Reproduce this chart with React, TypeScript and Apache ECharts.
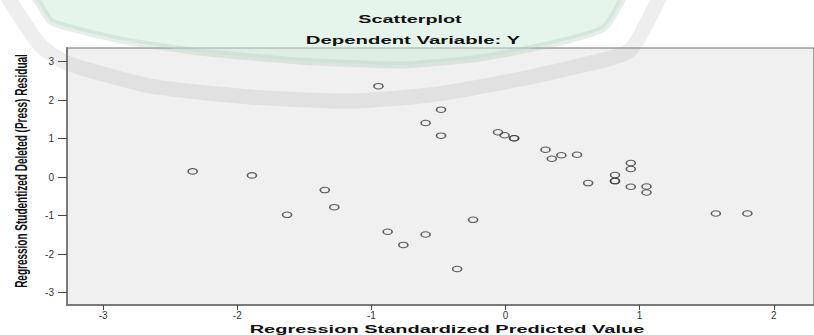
import React, { useEffect, useRef } from "react";
import * as echarts from "echarts";

// Regression Standardized Predicted Value
const predicted = [
  -2.333, -1.891, -1.629, -1.348, -1.277, -0.948, -0.879, -0.762, -0.596, -0.596,
  -0.481, -0.481, -0.361, -0.242, -0.056, -0.007, 0.064, 0.064, 0.298, 0.345,
  0.416, 0.533, 0.616, 0.816, 0.816, 0.816, 0.934, 0.934, 0.934, 1.051,
  1.051, 1.568, 1.803,
];
// Regression Studentized Deleted (Press) Residual
const residual = [
  0.148, 0.044, -0.98, -0.338, -0.781, 2.36, -1.42, -1.76, 1.405, -1.49,
  1.75, 1.075, -2.385, -1.11, 1.163, 1.085, 1.007, 1.007, 0.71, 0.476,
  0.565, 0.58, -0.156, 0.052, -0.104, -0.104, 0.364, 0.208, -0.252, -0.243,
  -0.399, -0.945, -0.945,
];
const xTicks = [-3, -2, -1, 0, 1, 2];
const yTicks = [-3, -2, -1, 0, 1, 2, 3];

const titleText = "Scatterplot";
const subtitleText = "Dependent Variable: Y";
const xName = "Regression Standardized Predicted Value";
const yName = "Regression Studentized Deleted (Press) Residual";

export default function App() {
  const ref = useRef<HTMLDivElement>(null);
  useEffect(() => {
    if (!ref.current) return;
    const chart = echarts.init(ref.current, null, { renderer: "svg" });
    const font = '"Liberation Sans", Arial, sans-serif';
    chart.setOption({
      animation: false,
      backgroundColor: "#ffffff",
      grid: {
        left: 67,
        top: 48,
        width: 760,
        height: 257,
        show: true,
        backgroundColor: "#f0f0f0",
        borderColor: "#6e6e6e",
        borderWidth: 1.2,
      },
      xAxis: {
        type: "value",
        min: -3.27,
        max: 2.3,
        axisLine: { show: true, onZero: false, lineStyle: { color: "#7a7a7a", width: 2 } },
        axisTick: { show: true, length: 5, customValues: xTicks, lineStyle: { color: "#444", width: 1 } },
        axisLabel: { customValues: xTicks, fontSize: 10, color: "#333", margin: 5, fontFamily: font },
        splitLine: { show: false },
      },
      yAxis: {
        type: "value",
        min: -3.32,
        max: 3.35,
        axisLine: { show: true, onZero: false, lineStyle: { color: "#7a7a7a", width: 2 } },
        axisTick: { show: true, length: 9, customValues: yTicks, lineStyle: { color: "#444", width: 1 } },
        axisLabel: { customValues: yTicks, fontSize: 10, color: "#333", margin: 13, fontFamily: font },
        splitLine: { show: false },
      },
      graphic: [
        {
          type: "polygon",
          silent: true,
          z: 1,
          shape: {
            smooth: 0.2,
            points: [[25, -20], [40, 5], [52, 22], [120, 40], [200, 52], [300, 61], [400, 65], [480, 58], [560, 42], [605, 27], [625, -20]],
          },
          style: { fill: "rgba(205,235,218,0.5)", stroke: "rgba(170,200,182,0.3)", lineWidth: 7 },
        },
        {
          type: "polyline",
          silent: true,
          z: 1,
          shape: {
            smooth: 0.2,
            points: [[0, -15], [40, 45], [67, 63], [150, 86], [250, 97], [350, 101], [430, 95], [500, 83], [570, 68], [630, 50], [665, -15]],
          },
          style: { fill: null, stroke: "rgba(140,140,140,0.15)", lineWidth: 15 },
        },
        {
          type: "text", z: 5, x: 410, y: 19, scaleX: 1.8,
          style: { text: titleText, font: `bold 11px ${font}`, fill: "#111", align: "center", verticalAlign: "middle" },
        },
        {
          type: "text", z: 5, x: 413, y: 39.5, scaleX: 1.85,
          style: { text: subtitleText, font: `bold 11px ${font}`, fill: "#111", align: "center", verticalAlign: "middle" },
        },
        {
          type: "text", z: 5, x: 447, y: 329, scaleX: 1.82,
          style: { text: xName, font: `bold 11px ${font}`, fill: "#111", align: "center", verticalAlign: "middle" },
        },
        {
          type: "text", z: 5, x: 22, y: 171, rotation: Math.PI / 2, scaleY: 1.6,
          style: { text: yName, font: `bold 10px ${font}`, fill: "#111", align: "center", verticalAlign: "middle" },
        },
      ],
      series: [
        {
          type: "scatter",
          z: 3,
          silent: true,
          symbol: "path://M0,3C0,1.34 2.01,0 4.5,0C6.99,0 9,1.34 9,3C9,4.66 6.99,6 4.5,6C2.01,6 0,4.66 0,3Z",
          symbolSize: [9, 5.5],
          itemStyle: { color: "rgba(0,0,0,0)", borderColor: "#3a3a3a", borderWidth: 1.3 },
          data: predicted.map((x, i) => [x, residual[i]]),
        },
      ],
    });
    return () => chart.dispose();
  }, []);
  return (
    <div
      ref={ref}
      style={{ position: "fixed", left: 0, top: 0, width: 814, height: 335, background: "#fff" }}
    />
  );
}
